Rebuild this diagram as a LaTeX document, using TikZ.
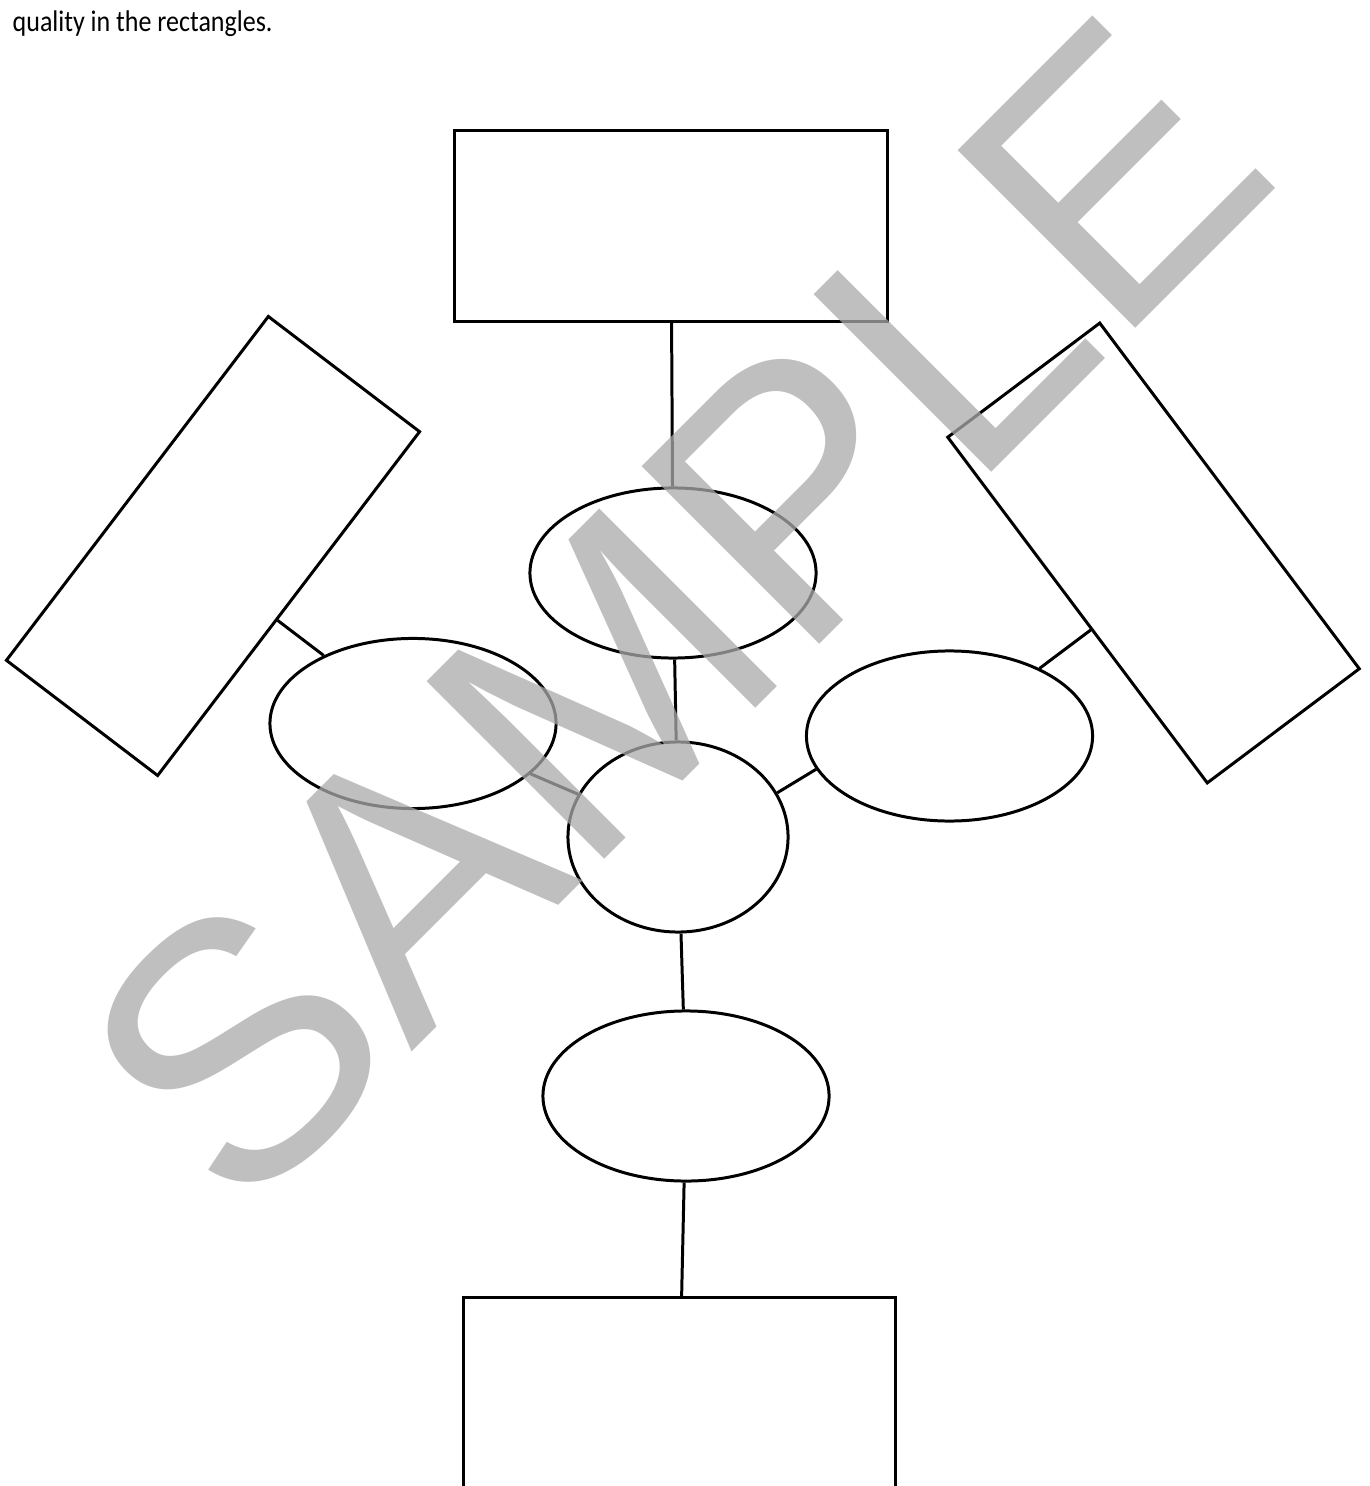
\documentclass[tikz,border=0pt]{standalone}
\usepackage{fontspec}
\setmainfont{Carlito}
\newfontfamily\narrowfont[FakeStretch=0.87]{Carlito}
\newfontfamily\markfont{Liberation Sans}
\usepackage{xcolor}
\usepackage{tikz}
\usetikzlibrary{shapes.geometric, calc}
\definecolor{markgray}{gray}{0.667}

\begin{document}
\begin{tikzpicture}[x=0.01cm, y=-0.01cm,
    box node/.style={rectangle, draw, line width=0.85pt, minimum width=4.32cm, minimum height=1.9cm, inner sep=0pt},
    oval node/.style={ellipse, draw, line width=0.85pt, minimum width=2.86cm, minimum height=1.7cm, inner sep=0pt},
    link edge/.style={line width=0.85pt},
    mark text/.style={text=markgray, text opacity=0.75, inner sep=0pt, font=\markfont\fontsize{103.85pt}{104pt}\selectfont}
]
    \useasboundingbox (0,0) rectangle (1369,1486);
    \clip (0,0) rectangle (1369,1486);

    % Texto
    \node[anchor=base west, inner sep=0pt, font=\narrowfont\fontsize{8.5pt}{10pt}\selectfont] (caption) at (12,32) {quality in the rectangles.};

    % Rectangulos
    \node[box node] (topbox) at (671,226) {};
    \node[box node, rotate=52.7] (leftbox) at (213,546) {};
    \node[box node, rotate=-53.1] (rightbox) at (1153.5,553) {};
    \node[box node] (bottombox) at (679.5,1393) {};

    % Elipses
    \node[oval node] (topoval) at (673,573) {};
    \node[oval node] (leftoval) at (413,723.5) {};
    \node[oval node] (rightoval) at (949.5,736) {};
    \node[oval node, minimum width=2.2cm, minimum height=1.9cm] (hub) at (678,837) {};
    \node[oval node] (bottomoval) at (686,1096) {};

    % Pies de las conexiones laterales
    \coordinate (leftfoot) at ($(leftbox.south west)!(leftoval.center)!(leftbox.south east)$);
    \coordinate (rightfoot) at ($(rightbox.south west)!(rightoval.center)!(rightbox.south east)$);

    % Conexiones
    \draw[link edge] (topbox) -- (topoval);
    \draw[link edge] (topoval) -- (hub);
    \draw[link edge] (hub) -- (bottomoval);
    \draw[link edge] (bottomoval) -- (bottombox);
    \draw[link edge] (leftoval) -- (hub);
    \draw[link edge] (hub.24) -- (rightoval.194);
    \draw[link edge] (leftoval) -- (leftfoot);
    \draw[link edge] (rightoval) -- (rightfoot);

    % Marca de agua
    \node[mark text, rotate=45, anchor=base] (mark) at (763,701) {SAMPLE};
\end{tikzpicture}
\end{document}
